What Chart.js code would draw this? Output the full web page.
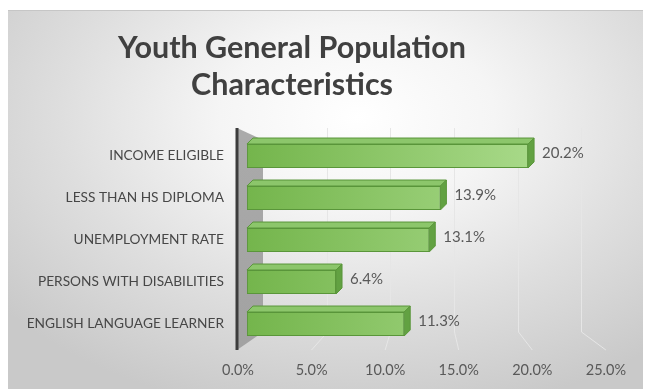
<!DOCTYPE html>
<html>
<head>
<meta charset="utf-8">
<script src="https://cdn.jsdelivr.net/npm/chart.js@4.4.1/dist/chart.umd.min.js"></script>
<style>
  html, body { margin: 0; padding: 0; background: #ffffff; }
  #box {
    position: absolute; left: 8px; top: 10px; width: 635px; height: 379px;
    border-top: 1px solid #c6c6c6;
    background: radial-gradient(ellipse 72% 80% at 55% 28%, #ffffff 0%, #f5f5f5 30%, #dedede 65%, #c9c9c9 100%);
  }
  canvas { display: block; }
</style>
</head>
<body>
<div id="box"><canvas id="c" width="635" height="378"></canvas></div>
<script>
// Chart data
const categories = [
  'INCOME ELIGIBLE',
  'LESS THAN HS DIPLOMA',
  'UNEMPLOYMENT RATE',
  'PERSONS WITH DISABILITIES',
  'ENGLISH LANGUAGE LEARNER'
];
const rates = [20.2, 13.9, 13.1, 6.4, 11.3];
const titleLines = ['Youth General Population', 'Characteristics'];
const axisMin = 0, axisMax = 25, axisStep = 5;

const FONT = 'Lato, "Open Sans", sans-serif';
const DEPTH = 6;          // depth offset of the 3D bar boxes
const WALL = 25;          // width of the side wall
const BACK_RATIO = 0.865; // back-wall scale relative to the front floor edge

function barFill(ctx) {
  const chart = ctx.chart;
  const area = chart.chartArea;
  if (!area) return '#86c162';
  const x0 = chart.scales.x.getPixelForValue(0);
  const g = chart.ctx.createLinearGradient(x0, 0, x0 + 290, 0);
  g.addColorStop(0, '#74b54c');
  g.addColorStop(1, '#a9da8a');
  return g;
}

const box3d = {
  id: 'box3d',
  beforeDatasetsDraw(chart) {
    const { ctx, chartArea: a, scales } = chart;
    const L = a.left, T = a.top, B = a.bottom;
    const tx = scales.x2;
    ctx.save();
    // gridlines on the back wall and the floor
    ctx.strokeStyle = '#e6e6e6';
    ctx.lineWidth = 1;
    tx.ticks.forEach(t => {
      if (t.value === 0) return;
      const fx = tx.getPixelForValue(t.value);
      const bx = Math.round(L + WALL + (fx - L) * BACK_RATIO) + 0.5;
      ctx.beginPath();
      ctx.moveTo(bx, T - 7);
      ctx.lineTo(bx, B - 13);
      ctx.lineTo(fx, B + 5);
      ctx.stroke();
    });
    // side wall
    const wg = ctx.createLinearGradient(0, T, 0, B);
    wg.addColorStop(0, '#aaaaaa');
    wg.addColorStop(1, '#a2a2a2');
    ctx.fillStyle = wg;
    ctx.beginPath();
    ctx.moveTo(L - 1, T - 7);
    ctx.lineTo(L + WALL, T + 5);
    ctx.lineTo(L + WALL, B - 13);
    ctx.lineTo(L - 1, B + 5);
    ctx.closePath();
    ctx.fill();
    // vertical axis line
    ctx.strokeStyle = '#3c3c3c';
    ctx.lineWidth = 3;
    ctx.beginPath();
    ctx.moveTo(L - 1, T - 7);
    ctx.lineTo(L - 1, B + 5);
    ctx.stroke();
    ctx.restore();
  },
  afterDatasetsDraw(chart) {
    const { ctx } = chart;
    const meta = chart.getDatasetMeta(0);
    ctx.save();
    meta.data.forEach((bar, i) => {
      const p = bar.getProps(['x', 'y', 'base', 'height'], true);
      const x0 = p.base, x1 = p.x;
      const yT = p.y - p.height / 2, yB = p.y + p.height / 2;
      // top face
      ctx.fillStyle = '#8cc66b';
      ctx.strokeStyle = '#5a963a';
      ctx.lineWidth = 1;
      ctx.beginPath();
      ctx.moveTo(x0, yT);
      ctx.lineTo(x0 + DEPTH, yT - DEPTH);
      ctx.lineTo(x1 + DEPTH, yT - DEPTH);
      ctx.lineTo(x1, yT);
      ctx.closePath();
      ctx.fill();
      ctx.stroke();
      // end face
      ctx.fillStyle = '#62a142';
      ctx.beginPath();
      ctx.moveTo(x1, yT);
      ctx.lineTo(x1 + DEPTH, yT - DEPTH);
      ctx.lineTo(x1 + DEPTH, yB - DEPTH);
      ctx.lineTo(x1, yB);
      ctx.closePath();
      ctx.fill();
      ctx.stroke();
      // value label
      ctx.fillStyle = '#595959';
      ctx.font = '15px ' + FONT;
      ctx.textAlign = 'left';
      ctx.textBaseline = 'middle';
      ctx.fillText(rates[i].toFixed(1) + '%', x1 + 14, p.y - 3);
    });
    ctx.restore();
  },
  afterDraw(chart) {
    const { ctx } = chart;
    ctx.save();
    ctx.fillStyle = '#404040';
    ctx.font = 'bold 30.5px ' + FONT;
    ctx.textAlign = 'center';
    ctx.textBaseline = 'alphabetic';
    ctx.fillText(titleLines[0], 284, 47);
    ctx.fillText(titleLines[1], 284, 84);
    ctx.restore();
  }
};

new Chart(document.getElementById('c'), {
  type: 'bar',
  data: {
    labels: categories,
    datasets: [{
      data: rates,
      xAxisID: 'x',
      yAxisID: 'y',
      backgroundColor: barFill,
      borderColor: '#5a963a',
      borderWidth: 1,
      borderSkipped: false,
      barPercentage: 0.57,
      categoryPercentage: 1
    }]
  },
  options: {
    indexAxis: 'y',
    responsive: false,
    devicePixelRatio: 1,
    animation: false,
    layout: { padding: { top: 124, right: 35, bottom: 0, left: 0 } },
    plugins: {
      legend: { display: false },
      title: { display: false },
      tooltip: { enabled: false }
    },
    scales: {
      x: {
        type: 'linear',
        display: false,
        min: -0.643,
        max: 25.79
      },
      x2: {
        type: 'linear',
        position: 'bottom',
        min: axisMin,
        max: axisMax,
        grid: { display: false, drawTicks: false },
        border: { display: false },
        ticks: {
          stepSize: axisStep,
          padding: 17,
          color: '#595959',
          font: { family: FONT, size: 14.5 },
          callback: v => Number(v).toFixed(1) + '%'
        },
        afterFit(s) { s.height = 44; }
      },
      y: {
        type: 'category',
        grid: { display: false, drawTicks: false },
        border: { display: false },
        ticks: {
          padding: 14,
          color: '#474747',
          font: { family: FONT, size: 13.7 }
        },
        afterFit(s) { s.width = 230; }
      }
    }
  },
  plugins: [box3d]
});
</script>
</body>
</html>
